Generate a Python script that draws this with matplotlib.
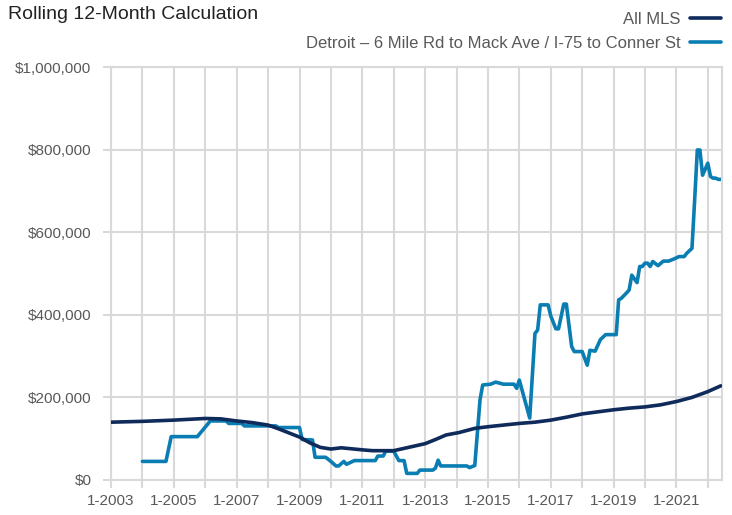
import pandas as pd
import matplotlib
matplotlib.use("Agg")
import matplotlib.pyplot as plt
from matplotlib.ticker import FuncFormatter

plt.rcParams['font.family'] = ['Liberation Sans', 'DejaVu Sans']

# All MLS rolling 12-month value
mls_months = ["2003-01", "2004-01", "2005-01", "2006-01", "2006-07", "2007-01", "2007-07",
              "2008-01", "2008-05", "2009-01", "2009-05", "2009-09", "2010-01", "2010-05",
              "2011-01", "2011-05", "2012-01", "2012-06", "2013-01", "2013-05", "2013-09",
              "2014-02", "2014-08", "2015-01", "2015-07", "2016-01", "2016-07", "2017-01",
              "2017-07", "2018-01", "2018-07", "2019-01", "2019-07", "2020-01", "2020-07",
              "2021-01", "2021-07", "2022-01", "2022-06"]
mls_values = [140000, 142000, 145000, 149000, 148000, 143000, 139000,
              133000, 124000, 104000, 90000, 79000, 75000, 78000,
              73000, 71000, 71000, 78000, 88000, 98000, 109000,
              115000, 125000, 129000, 133000, 137000, 140000, 145000,
              152000, 160000, 165000, 170000, 174000, 177000, 182000,
              190000, 200000, 214000, 228000]

# Detroit - 6 Mile Rd to Mack Ave / I-75 to Conner St
det_months = ["2004-01", "2004-10", "2004-12", "2005-10", "2006-03", "2006-09", "2006-10",
              "2007-03", "2007-04", "2008-04", "2008-05", "2009-01", "2009-02", "2009-06",
              "2009-07", "2009-11", "2010-01", "2010-03", "2010-04", "2010-06", "2010-07",
              "2010-10", "2011-06", "2011-07", "2011-09", "2011-10", "2012-01", "2012-03",
              "2012-05", "2012-06", "2012-10", "2012-11", "2013-04", "2013-05", "2013-06",
              "2013-07", "2014-05", "2014-06", "2014-08", "2014-10", "2014-11", "2015-02",
              "2015-04", "2015-07", "2015-11", "2015-12", "2016-01", "2016-05", "2016-07",
              "2016-08", "2016-09", "2016-12", "2017-01", "2017-03", "2017-04", "2017-06",
              "2017-07", "2017-09", "2017-10", "2018-01", "2018-03", "2018-04", "2018-06",
              "2018-08", "2018-10", "2019-02", "2019-03", "2019-04", "2019-06", "2019-07",
              "2019-08", "2019-10", "2019-11", "2019-12", "2020-01", "2020-02", "2020-03",
              "2020-04", "2020-06", "2020-08", "2020-10", "2020-12", "2021-02", "2021-04",
              "2021-05", "2021-07", "2021-08", "2021-09", "2021-10", "2021-11", "2022-01",
              "2022-02", "2022-03", "2022-04", "2022-05", "2022-06"]
det_values = [45000, 45000, 105000, 105000, 143000, 143000, 137000,
              137000, 131000, 131000, 127000, 127000, 98000, 97000,
              55000, 55000, 45000, 34000, 34000, 45000, 38000,
              47000, 47000, 58000, 58000, 70000, 70000, 47000,
              47000, 16000, 16000, 24000, 24000, 29000, 48000,
              34000, 34000, 30000, 35000, 194000, 230000, 232000,
              237000, 232000, 232000, 222000, 242000, 150000, 355000,
              363000, 424000, 424000, 397000, 366000, 366000, 426000,
              426000, 323000, 311000, 311000, 278000, 314000, 312000,
              340000, 352000, 352000, 436000, 440000, 453000, 460000,
              496000, 478000, 517000, 517000, 525000, 525000, 517000,
              529000, 519000, 530000, 530000, 535000, 541000, 541000,
              549000, 561000, 678000, 799000, 799000, 738000, 767000,
              735000, 731000, 731000, 728000, 728000]

years = list(range(2003, 2023))
y_ticks = [0, 200000, 400000, 600000, 800000, 1000000]

mls_dates = pd.to_datetime(mls_months)
det_dates = pd.to_datetime(det_months)

grid_col = '#d9d9d9'
text_col = '#595959'

fig = plt.figure(figsize=(7.32, 5.15), dpi=100)
ax = fig.add_axes([111 / 732, 35 / 515, (722 - 111) / 732, (480 - 67) / 515])

ax.plot(mls_dates, mls_values, color='#0f2b5b', lw=2.6, solid_capstyle='round',
        label='All MLS', zorder=3)
ax.plot(det_dates, det_values, color='#0a7db2', lw=2.6, solid_capstyle='round',
        label='Detroit \u2013 6 Mile Rd to Mack Ave / I-75 to Conner St', zorder=2)

ax.set_xlim(pd.Timestamp('2003-01-01'), pd.Timestamp('2022-06-15'))
ax.set_ylim(0, 1000000)

tick_dates = [pd.Timestamp(f'{y}-01-01') for y in years]
ax.set_xticks(tick_dates)
ax.set_xticklabels([f'1-{y}' if y % 2 == 1 else '' for y in years])
ax.set_yticks(y_ticks)
ax.yaxis.set_major_formatter(FuncFormatter(lambda v, p: '${:,.0f}'.format(v)))

ax.grid(True, color=grid_col, lw=1.5)
ax.set_axisbelow(True)
for side in ['left', 'right', 'top', 'bottom']:
    ax.spines[side].set_color(grid_col)
    ax.spines[side].set_linewidth(1.5)
ax.tick_params(axis='both', color=grid_col, width=1.5, length=6,
               labelcolor=text_col, labelsize=11)
ax.tick_params(axis='y', pad=8)
ax.tick_params(axis='x', pad=4)

fig.text(0.011, 0.988, 'Rolling 12-Month Calculation', fontsize=14, color='#222222',
         va='top', ha='left')

leg = ax.legend(loc='upper right', bbox_to_anchor=(0.999, 0.997), bbox_transform=fig.transFigure,
                frameon=False, markerfirst=False, fontsize=12, handlelength=1.9,
                handletextpad=0.55, labelspacing=0.55, borderaxespad=0.2)
for t in leg.get_texts():
    t.set_color(text_col)

fig.savefig('out.png', dpi=100)
